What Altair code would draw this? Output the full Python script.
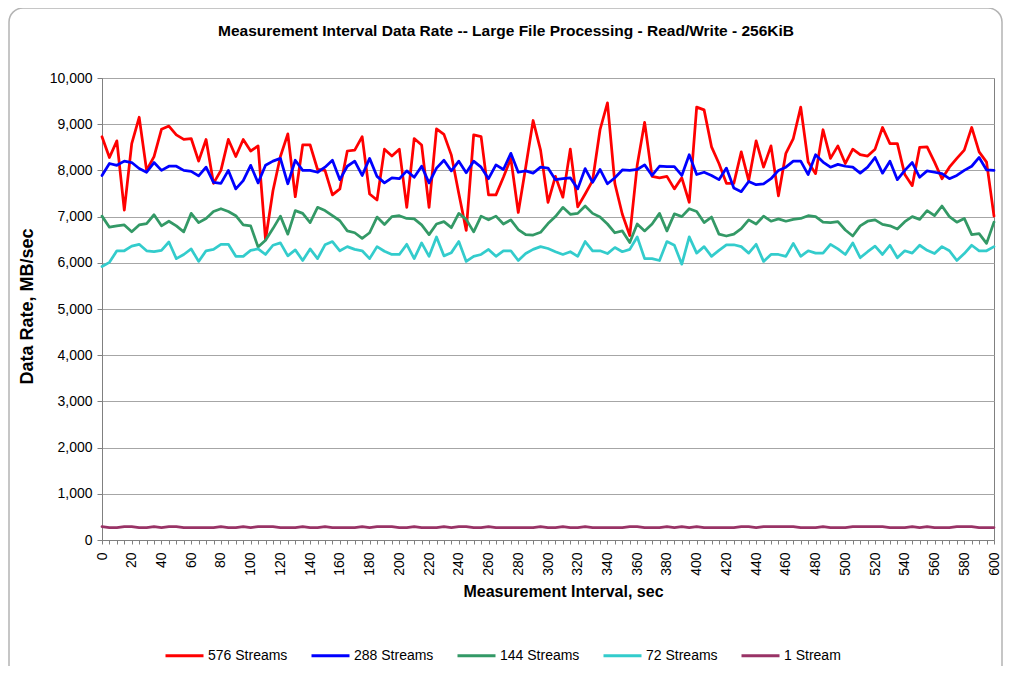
import altair as alt
import pandas as pd

seconds = list(range(0, 601, 5))
series_names = ["576 Streams", "288 Streams", "144 Streams", "72 Streams", "1 Stream"]
series_colors = ["#FF0000", "#0000FF", "#339966", "#33CCCC", "#993366"]

s576 = [8730, 8280, 8640, 7140, 8580, 9150, 8000, 8300, 8890, 8960,
        8770, 8670, 8690, 8200, 8670, 7720, 8000, 8670, 8300, 8670,
        8420, 8530, 6500, 7560, 8300, 8790, 7430, 8550, 8550, 8020,
        8000, 7470, 7600, 8420, 8440, 8730, 7490, 7360, 8460, 8310,
        8460, 7200, 8690, 8550, 7200, 8900, 8780, 8330, 7500, 6700,
        8770, 8730, 7470, 7470, 7850, 8260, 7090, 8070, 9080, 8440,
        7310, 7870, 7420, 8460, 7210, 7490, 7780, 8880, 9460, 7710,
        7050, 6590, 8110, 9040, 7870, 7840, 7870, 7600, 7840, 7310,
        9370, 9310, 8510, 8150, 7720, 7720, 8400, 7780, 8640, 8070,
        8530, 7450, 8370, 8690, 9370, 8180, 7930, 8880, 8260, 8530,
        8150, 8460, 8340, 8310, 8460, 8930, 8580, 8580, 7910, 7670,
        8500, 8510, 8180, 7820, 8070, 8260, 8440, 8930, 8400, 8180,
        7010]
s288 = [7890, 8150, 8110, 8200, 8170, 8040, 7960, 8170, 8000, 8090,
        8090, 8000, 7980, 7880, 8070, 7740, 7720, 8000, 7600, 7780,
        8110, 7730, 8110, 8200, 8260, 7710, 8220, 8000, 8000, 7960,
        8070, 8220, 7800, 8090, 8200, 7890, 8260, 7870, 7730, 7840,
        7820, 7990, 7850, 8090, 7730, 8050, 8220, 7990, 8200, 7950,
        8200, 8070, 7820, 8120, 8020, 8370, 7960, 7990, 7940, 8070,
        8050, 7800, 7820, 7840, 7600, 8040, 7740, 8020, 7710, 7840,
        8010, 8000, 8020, 8120, 7890, 8090, 8080, 8080, 7890, 8340,
        7910, 7960, 7890, 7800, 8050, 7620, 7540, 7760, 7690, 7710,
        7820, 8000, 8070, 8200, 8200, 7910, 8340, 8180, 8070, 8130,
        8090, 8070, 7940, 8070, 8280, 7940, 8200, 7800, 8000, 8170,
        7850, 7990, 7960, 7930, 7820, 7890, 8000, 8090, 8280, 8010,
        8000]
s144 = [7010, 6770, 6800, 6820, 6670, 6820, 6850, 7040, 6800, 6900,
        6800, 6670, 7070, 6870, 6960, 7110, 7170, 7110, 7020, 6820,
        6800, 6340, 6490, 6740, 7010, 6620, 7130, 7070, 6870, 7200,
        7130, 7020, 6910, 6690, 6650, 6530, 6650, 6990, 6830, 7000,
        7020, 6960, 6950, 6820, 6610, 6840, 6890, 6760, 7070, 6940,
        6670, 7010, 6930, 7010, 6840, 6930, 6720, 6610, 6600, 6660,
        6850, 7000, 7200, 7050, 7070, 7230, 7070, 6990, 6840, 6650,
        6690, 6440, 6840, 6690, 6840, 7070, 6690, 7060, 7000, 7170,
        7110, 6870, 6990, 6620, 6580, 6620, 6740, 6930, 6840, 7010,
        6900, 6950, 6900, 6940, 6960, 7020, 7000, 6880, 6870, 6890,
        6710, 6580, 6800, 6900, 6930, 6830, 6800, 6730, 6890, 7000,
        6940, 7130, 7020, 7230, 7000, 6880, 6960, 6610, 6630, 6420,
        6880]
s72 = [5920, 6010, 6260, 6260, 6360, 6400, 6260, 6240, 6270, 6450,
       6090, 6180, 6300, 6030, 6260, 6290, 6400, 6400, 6140, 6140,
       6270, 6300, 6180, 6380, 6430, 6150, 6280, 6050, 6300, 6090,
       6390, 6460, 6260, 6350, 6290, 6260, 6090, 6350, 6250, 6180,
       6180, 6400, 6090, 6430, 6140, 6560, 6150, 6220, 6460, 6030,
       6140, 6180, 6290, 6140, 6260, 6260, 6050, 6200, 6290, 6350,
       6310, 6240, 6180, 6240, 6140, 6460, 6260, 6260, 6200, 6330,
       6240, 6290, 6560, 6090, 6090, 6050, 6460, 6380, 5970, 6560,
       6210, 6350, 6140, 6270, 6390, 6390, 6350, 6210, 6400, 6030,
       6180, 6180, 6140, 6420, 6140, 6260, 6210, 6210, 6400, 6300,
       6180, 6430, 6110, 6240, 6360, 6180, 6380, 6110, 6260, 6210,
       6380, 6270, 6200, 6350, 6260, 6050, 6200, 6380, 6260, 6260,
       6350]
s1 = [290, 270, 270, 290, 290, 270, 270, 290, 270, 290,
      290, 270, 270, 270, 270, 270, 290, 270, 270, 290,
      270, 290, 290, 290, 270, 270, 270, 290, 270, 270,
      290, 270, 270, 270, 270, 290, 270, 290, 290, 290,
      270, 270, 290, 270, 270, 270, 290, 270, 290, 290,
      270, 270, 290, 270, 270, 270, 270, 270, 270, 290,
      270, 270, 290, 270, 270, 290, 270, 270, 270, 270,
      270, 290, 290, 270, 270, 270, 290, 270, 290, 270,
      290, 270, 270, 270, 270, 270, 290, 290, 270, 290,
      290, 290, 290, 290, 270, 270, 270, 290, 270, 270,
      270, 290, 290, 290, 290, 290, 270, 270, 270, 290,
      270, 290, 270, 270, 270, 290, 290, 290, 270, 270,
      270]

x_tick_values = list(range(0, 601, 5))
y_tick_values = list(range(0, 10001, 1000))

rows = []
for name, vals in zip(series_names, [s576, s288, s144, s72, s1]):
    for t, v in zip(seconds, vals):
        rows.append({"sec": t, "rate": v, "series": name})
df = pd.DataFrame(rows)

W, H = 892, 462

border = alt.Chart(alt.Data(values=[{}])).mark_rect(
    fill="white", fillOpacity=0, stroke="#b4b4b4", strokeWidth=1.5, cornerRadius=14
).encode(
    x=alt.value(-93), x2=alt.value(900), y=alt.value(-70), y2=alt.value(620)
)

lines = alt.Chart(df).mark_line(strokeWidth=2.75, strokeJoin="round", strokeCap="round").encode(
    x=alt.X(
        "sec:Q",
        scale=alt.Scale(domain=[0, 600], nice=False, zero=True),
        axis=alt.Axis(
            values=x_tick_values,
            labelExpr="datum.value % 20 == 0 ? datum.label : ''",
            format="d",
            labelAngle=270,
            labelFontSize=14,
            labelPadding=8,
            tickSize=4,
            labelOverlap=False,
            labelFlush=False,
            labelBound=False,
            grid=False,
            title="Measurement Interval, sec",
            titleFontSize=16,
            titleFontWeight="bold",
            titleX=461,
            titleY=56,
            titleBaseline="alphabetic",
            titleAlign="center",
        ),
    ),
    y=alt.Y(
        "rate:Q",
        scale=alt.Scale(domain=[0, 10000], nice=False),
        axis=alt.Axis(
            values=y_tick_values,
            format=",d",
            labelFontSize=14,
            tickSize=5,
            labelPadding=5,
            grid=True,
            title="Data Rate, MB/sec",
            titleFontSize=18,
            titleFontWeight="bold",
            titleX=-70,
            titleY=228,
            titleAngle=270,
            titleAlign="center",
            titleBaseline="alphabetic",
        ),
    ),
    color=alt.Color(
        "series:N",
        scale=alt.Scale(domain=series_names, range=series_colors),
        sort=series_names,
        legend=alt.Legend(
            orient="none",
            legendX=62,
            legendY=557,
            direction="horizontal",
            title=None,
            symbolType="stroke",
            symbolSize=1444,
            symbolStrokeWidth=3,
            labelFontSize=14,
            labelOffset=3,
            columnPadding=17,
            padding=0,
            labelLimit=200,
        ),
    ),
)

chart = alt.layer(border, lines).properties(
    width=W,
    height=H,
    autosize=alt.AutoSizeParams(type="none"),
    padding={"left": 94, "top": 70, "right": 10, "bottom": 126},
    title=alt.TitleParams(
        text="Measurement Interval Data Rate -- Large File Processing - Read/Write - 256KiB",
        fontSize=15.5,
        fontWeight="bold",
        anchor="middle",
        dx=-42,
        offset=-44,
        baseline="alphabetic",
        color="black",
    ),
).configure(
    font="Liberation Sans",
    background="white",
).configure_view(
    stroke="#808080", strokeWidth=1
).configure_axis(
    domainColor="#808080",
    tickColor="#808080",
    gridColor="#a6a6a6",
    labelColor="black",
    titleColor="black",
    labelFont="Liberation Sans",
    titleFont="Liberation Sans",
).configure_legend(
    labelFont="Liberation Sans", labelColor="black"
)

chart.save("out.html", embed_options={"renderer": "svg", "actions": False})
